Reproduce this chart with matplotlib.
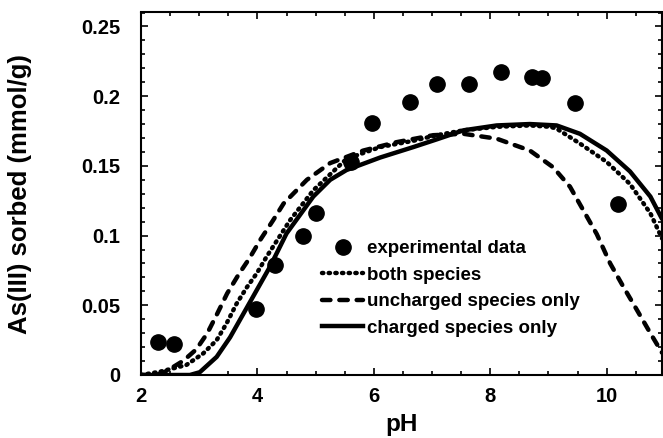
import matplotlib
matplotlib.use("Agg")
import matplotlib.pyplot as plt
from matplotlib.ticker import MultipleLocator, FixedLocator
from matplotlib.lines import Line2D

plt.rcParams['font.family'] = ['Liberation Sans', 'DejaVu Sans']
plt.rcParams['font.weight'] = 'bold'

# experimental data
pH_exp = [2.29, 2.56, 3.97, 4.30, 4.78, 5.01, 5.60, 5.97, 6.62, 7.09, 7.64, 8.18, 8.72, 8.89, 9.45, 10.19]
sorbed_exp = [0.024, 0.0224, 0.047, 0.079, 0.100, 0.116, 0.153, 0.181, 0.196, 0.209, 0.209, 0.2175, 0.214, 0.213, 0.195, 0.123]

# both species model
pH_both = [2.0, 2.33, 2.78, 3.07, 3.30, 3.47, 3.64, 3.82, 3.99, 4.16, 4.56, 4.96, 5.53, 6.11, 6.68,
           7.08, 7.54, 8.11, 8.68, 9.03, 9.14, 9.54, 10.0, 10.40, 10.75, 10.95]
sorbed_both = [0.0, 0.0024, 0.0072, 0.0155, 0.025, 0.037, 0.051, 0.063, 0.073, 0.085, 0.111, 0.1325, 0.155,
               0.1635, 0.168, 0.172, 0.1755, 0.178, 0.179, 0.178, 0.1767, 0.166, 0.1528, 0.137, 0.116, 0.098]

# uncharged species only model
pH_unch = [2.0, 2.2, 2.35, 2.47, 2.73, 2.95, 3.14, 3.31, 3.48, 3.68, 3.86, 4.05, 4.27, 4.45, 4.85, 5.25,
           5.82, 6.39, 7.02, 7.54, 8.11, 8.68, 9.08, 9.37, 9.60, 9.83, 10.06, 10.29, 10.52, 10.75, 10.95]
sorbed_unch = [0.0, 0.0, 0.001, 0.0036, 0.0103, 0.0184, 0.030, 0.044, 0.0585, 0.0723, 0.0835, 0.097, 0.111,
               0.123, 0.140, 0.152, 0.161, 0.167, 0.172, 0.173, 0.1695, 0.161, 0.149, 0.135, 0.118, 0.101,
               0.080, 0.063, 0.0466, 0.030, 0.016]

# charged species only model
pH_ch = [2.0, 2.5, 2.84, 3.01, 3.30, 3.53, 3.76, 3.99, 4.22, 4.50, 4.96, 5.25, 5.53, 6.11, 6.68, 7.08,
         7.54, 8.11, 8.68, 9.14, 9.54, 10.0, 10.40, 10.75, 10.95]
sorbed_ch = [0.0, 0.0, 0.0, 0.002, 0.013, 0.027, 0.044, 0.061, 0.078, 0.1015, 0.128, 0.140, 0.147, 0.156,
             0.1635, 0.169, 0.1755, 0.179, 0.180, 0.179, 0.173, 0.161, 0.146, 0.128, 0.112]

labels = ['experimental data', 'both species', 'uncharged species only', 'charged species only']
y_ticks = [0, 0.05, 0.1, 0.15, 0.2, 0.25]
y_ticklabels = ['0', '0.05', '0.1', '0.15', '0.2', '0.25']
x_ticks = [2, 4, 6, 8, 10]

W, H = 663, 438
fig = plt.figure(figsize=(W / 100, H / 100), dpi=100)
ax = fig.add_axes([141 / W, (H - 375) / H, (662 - 141) / W, (375 - 12.5) / H])

lw = 3.2
dot_style = dict(dashes=(0.3, 1.2), dash_capstyle='round')
dash_style = dict(dashes=(1.9, 2.0), dash_capstyle='round')
ax.plot(pH_both, sorbed_both, color='black', lw=lw, **dot_style)
ax.plot(pH_unch, sorbed_unch, color='black', lw=lw, **dash_style)
ax.plot(pH_ch, sorbed_ch, color='black', lw=lw, solid_capstyle='round')
ax.plot(pH_exp, sorbed_exp, 'o', color='black', ms=11, mec='black', ls='none')

ax.set_xlim(2, 10.95)
ax.set_ylim(0, 0.26)
ax.xaxis.set_major_locator(FixedLocator(x_ticks))
ax.xaxis.set_minor_locator(MultipleLocator(0.5))
ax.set_yticks(y_ticks)
ax.set_yticklabels(y_ticklabels)
ax.yaxis.set_minor_locator(MultipleLocator(0.01))
ax.tick_params(which='both', direction='in', top=True, right=True, width=1.2, labelsize=14.5)
ax.tick_params(which='major', length=5)
ax.tick_params(which='minor', length=3)
ax.tick_params(axis='y', pad=15)
ax.tick_params(axis='x', pad=9)
for lab in ax.get_xticklabels() + ax.get_yticklabels():
    lab.set_fontweight('bold')
for s in ax.spines.values():
    s.set_linewidth(1.5)

ax.set_xlabel('pH', fontsize=17.5, fontweight='bold', labelpad=5)
ax.set_ylabel('As(III) sorbed (mmol/g)', fontsize=18.5, fontweight='bold', labelpad=35)

handles = [
    Line2D([], [], marker='o', color='black', ms=11, ls='none'),
    Line2D([], [], color='black', lw=lw, **dot_style),
    Line2D([], [], color='black', lw=lw, **dash_style),
    Line2D([], [], color='black', lw=lw),
]
leg = ax.legend(handles, labels, loc='upper left', frameon=False,
                bbox_to_anchor=(322 / W, (H - 240) / H), bbox_transform=fig.transFigure,
                borderpad=0, borderaxespad=0, handlelength=2.2, handletextpad=0.2,
                labelspacing=0.5, prop={'size': 13.5, 'weight': 'bold'})

fig.savefig('out.png', dpi=100)
